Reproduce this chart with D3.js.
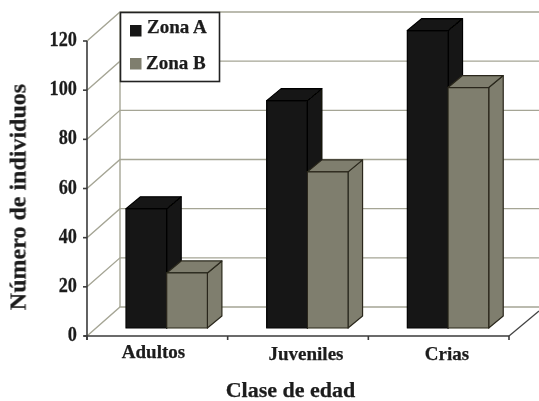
<!DOCTYPE html>
<html><head><meta charset="utf-8">
<script src="https://cdnjs.cloudflare.com/ajax/libs/d3/7.9.0/d3.min.js"></script>
<style>html,body{margin:0;padding:0;background:#fff}svg{display:block}text{font-family:"Liberation Serif",serif;font-weight:bold;fill:#1c1c1c;stroke:#1c1c1c;stroke-width:.25}</style>
</head><body><div id="c"></div>
<script>
const categories=["Adultos","Juveniles","Crias"];
const zonaA=[48.5,92.5,121];
const zonaB=[22.4,63.5,97.8];
const seriesNames=["Zona A","Zona B"];
const yTicks=[0,20,40,60,80,100,120];
const colors=["#171715","#7f7e6e"];
const outlines=["#030303","#2a281c"];

const W=539,H=401;
const svg=d3.select("#c").append("svg").attr("width",W).attr("height",H);
svg.append("defs").append("filter").attr("id","soft").append("feGaussianBlur").attr("stdDeviation",0.4);
const root=svg.append("g").attr("filter","url(#soft)");

const y=d3.scaleLinear().domain([0,120]).range([336,41]);
const x=d3.scaleBand().domain(categories).range([87,509]);
const barW=40.7,barStart=39;
const wall={dx:33,dy:-29}, lift=-8, depth={dx:14.5,dy:-12};
const gridCol="#a5a595";

const grid=root.append("g").attr("fill","none").attr("stroke",gridCol).attr("stroke-width",1.4);
yTicks.forEach(t=>{
  const yy=y(t);
  grid.append("path").attr("d",`M87,${yy}L${87+wall.dx},${yy+wall.dy}L${W},${yy+wall.dy}`);
});
grid.append("line").attr("x1",87+wall.dx).attr("x2",87+wall.dx).attr("y1",y(120)+wall.dy).attr("y2",y(0)+wall.dy);
root.append("line").attr("x1",509).attr("y1",y(0)).attr("x2",W).attr("y2",y(0)-25).attr("stroke","#444").attr("stroke-width",1.3);

const bars=[];
categories.forEach((c,i)=>{
  [zonaA[i],zonaB[i]].forEach((v,s)=>bars.push({c,v,s}));
});
const g=root.append("g").attr("stroke-width",1.2).attr("stroke-linejoin","round");
g.selectAll("g.bar").data(bars).join("g").attr("class","bar").attr("stroke",d=>outlines[d.s]).attr("fill",d=>colors[d.s]).each(function(d){
  const sel=d3.select(this);
  const x0=x(d.c)+barStart+d.s*barW, x1=x0+barW;
  const yt=y(d.v)+lift, yb=y(0)+lift;
  sel.append("path").attr("d",`M${x1},${yt}L${x1+depth.dx},${yt+depth.dy}L${x1+depth.dx},${yb+depth.dy}L${x1},${yb}Z`);
  sel.append("path").attr("d",`M${x0},${yt}L${x0+depth.dx},${yt+depth.dy}L${x1+depth.dx},${yt+depth.dy}L${x1},${yt}Z`);
  sel.append("rect").attr("x",x0).attr("y",yt).attr("width",barW).attr("height",yb-yt);
});

const axisCol="#3a3a3a";
const ax=root.append("g").attr("stroke",axisCol).attr("stroke-width",1.6);
ax.append("line").attr("x1",87).attr("x2",87).attr("y1",y(120)).attr("y2",y(0)+4);
ax.append("line").attr("x1",84).attr("x2",509).attr("y1",y(0)).attr("y2",y(0));
yTicks.forEach(t=>ax.append("line").attr("x1",83).attr("x2",87).attr("y1",y(t)).attr("y2",y(t)));
[...categories.map(c=>x(c)),509].forEach(v=>ax.append("line").attr("x1",v).attr("x2",v).attr("y1",y(0)).attr("y2",y(0)+4));

root.selectAll("text.yt").data(yTicks).join("text").attr("class","yt")
  .attr("transform",d=>`translate(77,${y(d)+5}) scale(.87,1)`).attr("text-anchor","end").attr("font-size",21).text(d=>d);
root.selectAll("text.xt").data(categories).join("text").attr("class","xt")
  .attr("x",(d,i)=>[153.5,306,447][i]).attr("y",(d,i)=>[358,360,360][i]).attr("text-anchor","middle").attr("font-size",19).text(d=>d);
root.append("text").attr("x",290.5).attr("y",397).attr("text-anchor","middle").attr("font-size",22).text("Clase de edad");
root.append("text").attr("transform","translate(25.5,197) rotate(-90)").attr("text-anchor","middle").attr("font-size",24).text("Número de individuos");

const lg=root.append("g");
lg.append("rect").attr("x",120.5).attr("y",12.5).attr("width",99).attr("height",69).attr("fill","#fff").attr("stroke","#222").attr("stroke-width",1.6);
seriesNames.forEach((n,i)=>{
  const top=[25,58][i];
  lg.append("rect").attr("x",130).attr("y",top).attr("width",11.5).attr("height",11.5).attr("fill",colors[i]);
  lg.append("text").attr("x",[147,146][i]).attr("y",[33,69][i]).attr("font-size",19).text(n);
});
</script></body></html>
